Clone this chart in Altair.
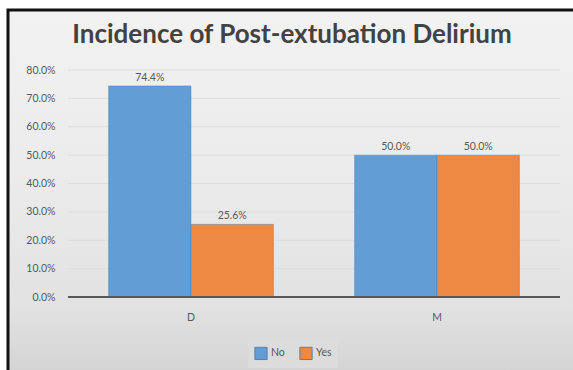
import altair as alt
import pandas as pd

# Incidence of post-extubation delirium by group
groups = ["D", "D", "M", "M"]
responses = ["No", "Yes", "No", "Yes"]
percent = [74.4, 25.6, 50.0, 50.0]
tick_values = [0.0, 0.1, 0.2, 0.3, 0.4, 0.5, 0.6, 0.7, 0.8]
title_text = "Incidence of Post-extubation Delirium"

df = pd.DataFrame({
    "group": groups,
    "response": responses,
    "share": [p / 100 for p in percent],
})
grid_df = pd.DataFrame({"tick": tick_values[1:]})

W, H = 492, 227
PAD = {"left": 68, "top": 70, "right": 13, "bottom": 73}
FONT = "Lato"
TXT = "#595959"

blue = "#629dd6"
orange = "#ee8944"

# panel backdrop with a soft vertical shade and a dark frame on its top/left edge
backdrop = alt.Chart(alt.Data(values=[{}])).mark_rect(
    fill=alt.Gradient(
        gradient="linear", x1=0, y1=0, x2=0, y2=1,
        stops=[alt.GradientStop(color="#f2f2f2", offset=0),
               alt.GradientStop(color="#ebebeb", offset=0.45),
               alt.GradientStop(color="#e2e2e2", offset=0.78),
               alt.GradientStop(color="#d0d0d0", offset=1)],
    ),
    stroke="#111111",
    strokeWidth=3,
).encode(
    x=alt.value(-PAD["left"] + 8),
    x2=alt.value(W + PAD["right"] + 20),
    y=alt.value(-PAD["top"] + 10),
    y2=alt.value(H + PAD["bottom"] + 20),
)

title = alt.Chart(alt.Data(values=[{}])).mark_text(
    fontSize=26, font=FONT, fontWeight="bold", color="#424242",
    align="center", baseline="alphabetic",
).encode(
    x=alt.value(W / 2 - 22),
    y=alt.value(-27),
    text=alt.value(title_text),
)

yscale = alt.Scale(domain=[0, 0.8], nice=False)
xscale = alt.Scale(paddingInner=0.33, paddingOuter=0.165)

# shared axis definitions, used identically by every layer
yaxis = alt.Axis(title=None, format=".1%", values=tick_values,
                 ticks=False, domain=False, grid=False, labelPadding=13,
                 labelOverlap=False, labelFontSize=10.5, labelColor=TXT,
                 labelFont=FONT, zindex=1)
xaxis = alt.Axis(title=None, labelAngle=0, ticks=False, domain=False,
                 labelPadding=15, labelFontSize=10.5, labelColor=TXT,
                 labelFont=FONT, zindex=1)

grid = alt.Chart(grid_df).mark_rule(color="#dcdcdc", strokeWidth=1).encode(
    y=alt.Y("tick:Q", scale=yscale, axis=yaxis),
    x=alt.value(0),
    x2=alt.value(W),
)

color = alt.Color(
    "response:N",
    sort=["No", "Yes"],
    scale=alt.Scale(domain=["No", "Yes"], range=[blue, orange]),
    legend=alt.Legend(
        title=None, orient="none", direction="horizontal",
        legendX=180, legendY=270, symbolType="square", symbolSize=150,
        symbolStrokeWidth=1, labelFontSize=10.5, labelColor=TXT,
        labelFont=FONT, columnPadding=12, labelOffset=3,
        fillColor="#dcdcdc", padding=6,
    ),
)

bars = alt.Chart(df).mark_bar(
    strokeWidth=1, stroke="#5a7fa8", strokeOpacity=0.45
).encode(
    x=alt.X("group:N", sort=["D", "M"], scale=xscale, axis=xaxis),
    xOffset=alt.XOffset("response:N", sort=["No", "Yes"],
                        scale=alt.Scale(paddingInner=0, paddingOuter=0)),
    y=alt.Y("share:Q", scale=yscale, axis=yaxis),
    color=color,
)

labels = alt.Chart(df).mark_text(
    baseline="bottom", dy=-3, fontSize=10.5, color=TXT, font=FONT
).encode(
    x=alt.X("group:N", sort=["D", "M"], scale=xscale, axis=xaxis),
    xOffset=alt.XOffset("response:N", sort=["No", "Yes"]),
    y=alt.Y("share:Q", scale=yscale, axis=yaxis),
    text=alt.Text("share:Q", format=".1%"),
)

baseline = alt.Chart(alt.Data(values=[{"v": 0}])).mark_rule(
    color="#595959", strokeWidth=2
).encode(
    y=alt.Y("v:Q", scale=yscale, axis=yaxis),
    x=alt.value(0),
    x2=alt.value(W),
)

chart = alt.layer(backdrop, title, grid, bars, labels, baseline).properties(
    width=W,
    height=H,
    padding=PAD,
    autosize=alt.AutoSizeParams(type="none"),
    background="white",
).configure_view(stroke=None)

chart.save("out.html", embed_options={"renderer": "svg", "actions": False})
